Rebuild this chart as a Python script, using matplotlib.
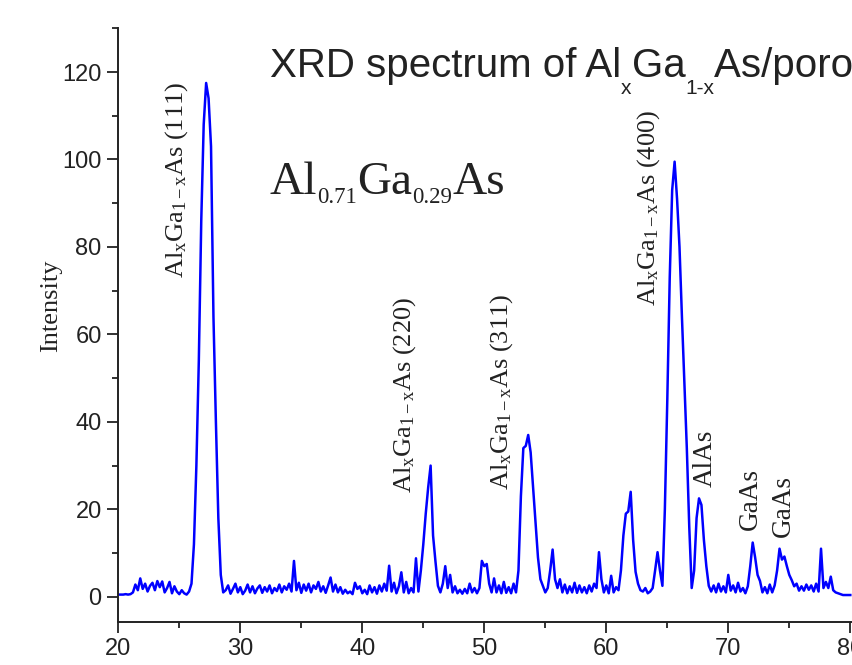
import matplotlib.pyplot as plt
import numpy as np

plt.rcParams['font.family'] = 'Liberation Sans'
plt.rcParams['mathtext.fontset'] = 'custom'
plt.rcParams['mathtext.rm'] = 'Liberation Serif'
plt.rcParams['mathtext.it'] = 'Liberation Serif:italic'

# 2-theta grid (deg) and intensity
two_theta = np.round(np.arange(20.0, 80.01, 0.2), 1)
intensity = [
    0.5, 0.5, 0.5, 0.6, 0.5, 0.6, 1.0, 2.8, 1.5, 4.2,        # 20
    1.8, 3.0, 1.2, 2.5, 3.2, 1.5, 3.6, 2.2, 3.5, 1.0,        # 22
    2.0, 3.4, 0.8, 2.4, 1.2, 0.6, 1.5, 0.8, 0.5, 1.2,        # 24
    3.0, 12.0, 30.0, 54.0, 86.0, 108.0, 117.5, 114.0, 103.0, 64.0,  # 26
    40.0, 18.0, 5.0, 1.0, 1.5, 2.6, 0.7, 1.8, 3.0, 1.0,      # 28
    2.2, 0.6, 1.4, 2.8, 1.0, 2.4, 0.8, 1.9, 2.6, 0.9,        # 30
    2.2, 1.2, 2.6, 0.8, 2.0, 1.3, 2.8, 1.0, 2.4, 1.6,        # 32
    3.0, 1.2, 8.2, 1.5, 3.2, 0.9, 2.8, 1.4, 3.0, 1.0,        # 34
    2.6, 1.8, 3.4, 1.2, 2.4, 0.9, 2.6, 4.4, 1.2, 2.8,        # 36
    1.0, 2.2, 0.7, 1.6, 0.8, 1.2, 0.6, 3.2, 1.8, 2.4,        # 38
    0.8, 1.6, 0.6, 2.6, 1.0, 2.2, 0.7, 2.6, 1.2, 3.0,        # 40
    1.4, 7.1, 1.2, 3.2, 0.8, 2.4, 5.6, 1.0, 3.4, 0.8,        # 42
    2.0, 1.0, 8.8, 1.2, 6.0, 12.0, 19.0, 25.0, 30.0, 14.0,   # 44
    8.0, 2.5, 1.0, 3.0, 7.0, 2.0, 5.0, 1.0, 2.4, 0.8,        # 46
    1.6, 0.7, 1.8, 0.8, 3.0, 1.0, 2.0, 0.8, 2.0, 8.2,        # 48
    7.0, 7.5, 3.0, 1.0, 4.2, 1.0, 2.6, 0.8, 3.4, 0.9,        # 50
    2.2, 0.8, 3.0, 1.0, 6.0, 23.0, 34.0, 34.5, 37.0, 33.0,   # 52
    25.0, 17.0, 9.0, 4.0, 2.5, 1.0, 2.0, 6.0, 10.8, 4.0,     # 54
    2.0, 4.0, 1.0, 2.8, 0.8, 2.4, 1.0, 3.2, 0.9, 2.6,        # 56
    1.0, 2.2, 0.8, 2.6, 1.2, 3.0, 2.0, 10.2, 4.0, 1.0,       # 58
    2.6, 0.8, 4.8, 1.0, 2.2, 1.5, 6.0, 14.0, 19.0, 19.5,     # 60
    24.0, 13.0, 5.7, 3.0, 1.5, 1.2, 2.0, 0.8, 1.2, 2.0,      # 62
    6.0, 10.2, 6.0, 2.5, 20.0, 45.0, 73.0, 93.0, 99.5, 91.0,  # 64
    80.0, 64.0, 49.0, 34.0, 16.0, 2.0, 6.0, 18.0, 22.5, 21.0,  # 66
    13.0, 7.0, 2.5, 1.2, 2.6, 1.0, 3.0, 1.2, 2.4, 1.0,       # 68
    5.0, 1.4, 2.6, 1.0, 3.2, 1.2, 2.0, 0.8, 2.4, 7.0,        # 70
    12.4, 9.0, 5.0, 3.6, 1.0, 2.2, 0.8, 2.8, 1.0, 2.6,       # 72
    6.0, 11.0, 8.5, 9.2, 7.0, 5.0, 3.8, 2.4, 3.0, 1.4,       # 74
    2.4, 1.4, 2.8, 1.6, 2.6, 1.2, 3.0, 1.2, 11.0, 2.0,       # 76
    3.4, 2.0, 4.6, 1.5, 1.0, 0.8, 0.6, 0.4, 0.4, 0.4,        # 78
    0.4,
]

peak_names = [r'Al$_{\mathregular{x}}$Ga$_{\mathregular{1-x}}$As (111)',
              r'Al$_{\mathregular{x}}$Ga$_{\mathregular{1-x}}$As (220)',
              r'Al$_{\mathregular{x}}$Ga$_{\mathregular{1-x}}$As (311)',
              r'Al$_{\mathregular{x}}$Ga$_{\mathregular{1-x}}$As (400)',
              'AlAs', 'GaAs', 'GaAs']
peak_x = [24.8, 43.5, 51.4, 63.5, 68.1, 71.85, 74.5]
peak_label_y = [73.0, 23.8, 24.4, 66.4, 25.2, 15.3, 13.7]
peak_fs = [19, 19, 19, 19, 19.5, 19.5, 19.5]

fig = plt.figure(figsize=(8.52, 6.65), dpi=100)
ax = fig.add_axes([118.3 / 852, 43.3 / 665, (852 - 118.3) / 852, (621.7 - 28.3) / 665])

ax.plot(two_theta, intensity, color='#0000ff', lw=1.8)

ax.set_xlim(20, 80.14)
ax.set_ylim(-5.7, 130)
ax.set_xticks(range(20, 81, 10))
ax.set_xticks(range(25, 80, 10), minor=True)
ax.set_yticks(range(0, 121, 20))
ax.set_yticks(range(10, 131, 20), minor=True)
ax.spines['top'].set_visible(False)
ax.spines['right'].set_visible(False)
for s in ['left', 'bottom']:
    ax.spines[s].set_linewidth(1.4)
    ax.spines[s].set_color('#222222')
ax.tick_params(which='major', direction='out', length=8, width=1.3, labelsize=17,
               pad=4, color='#222222', labelcolor='#222222')
ax.tick_params(which='minor', direction='out', length=4.5, width=1.3, color='#222222')

ax.set_ylabel('Intensity', family='Liberation Serif', fontsize=19, color='#222222')
ax.yaxis.set_label_coords(-0.077, 0.532)

for name, px, py, fs in zip(peak_names, peak_x, peak_label_y, peak_fs):
    ax.text(px, py, name, rotation=90, ha='center', va='bottom', fontsize=fs,
            family='Liberation Serif', color='#222222')


def chained_text(pieces, x, y, family):
    # pieces: (text, fontsize, vertical offset in points)
    first = fig.text(x, y, pieces[0][0], fontsize=pieces[0][1], family=family,
                     va='baseline', color='#222222')
    prev = first
    for s, size, dy in pieces[1:]:
        prev = ax.annotate(s, xy=(1, 0), xycoords=(prev, first), xytext=(0, dy),
                           textcoords='offset points', fontsize=size, family=family,
                           va='bottom', ha='left', color='#222222')


chained_text([('XRD spectrum of Al', 29, 0), ('x', 15, -9.5), ('Ga', 29, 0),
              ('1-x', 15, -9.5), ('As/porous silicon', 29, 0)],
             270 / 852, (665 - 77) / 665, 'Liberation Sans')

chained_text([('Al', 34, 0), ('0.71', 16.5, -2.8), ('Ga', 34, 0),
              ('0.29', 16.5, -2.8), ('As', 34, 0)],
             270 / 852, (665 - 194) / 665, 'Liberation Serif')

fig.savefig('out.png', dpi=100)
